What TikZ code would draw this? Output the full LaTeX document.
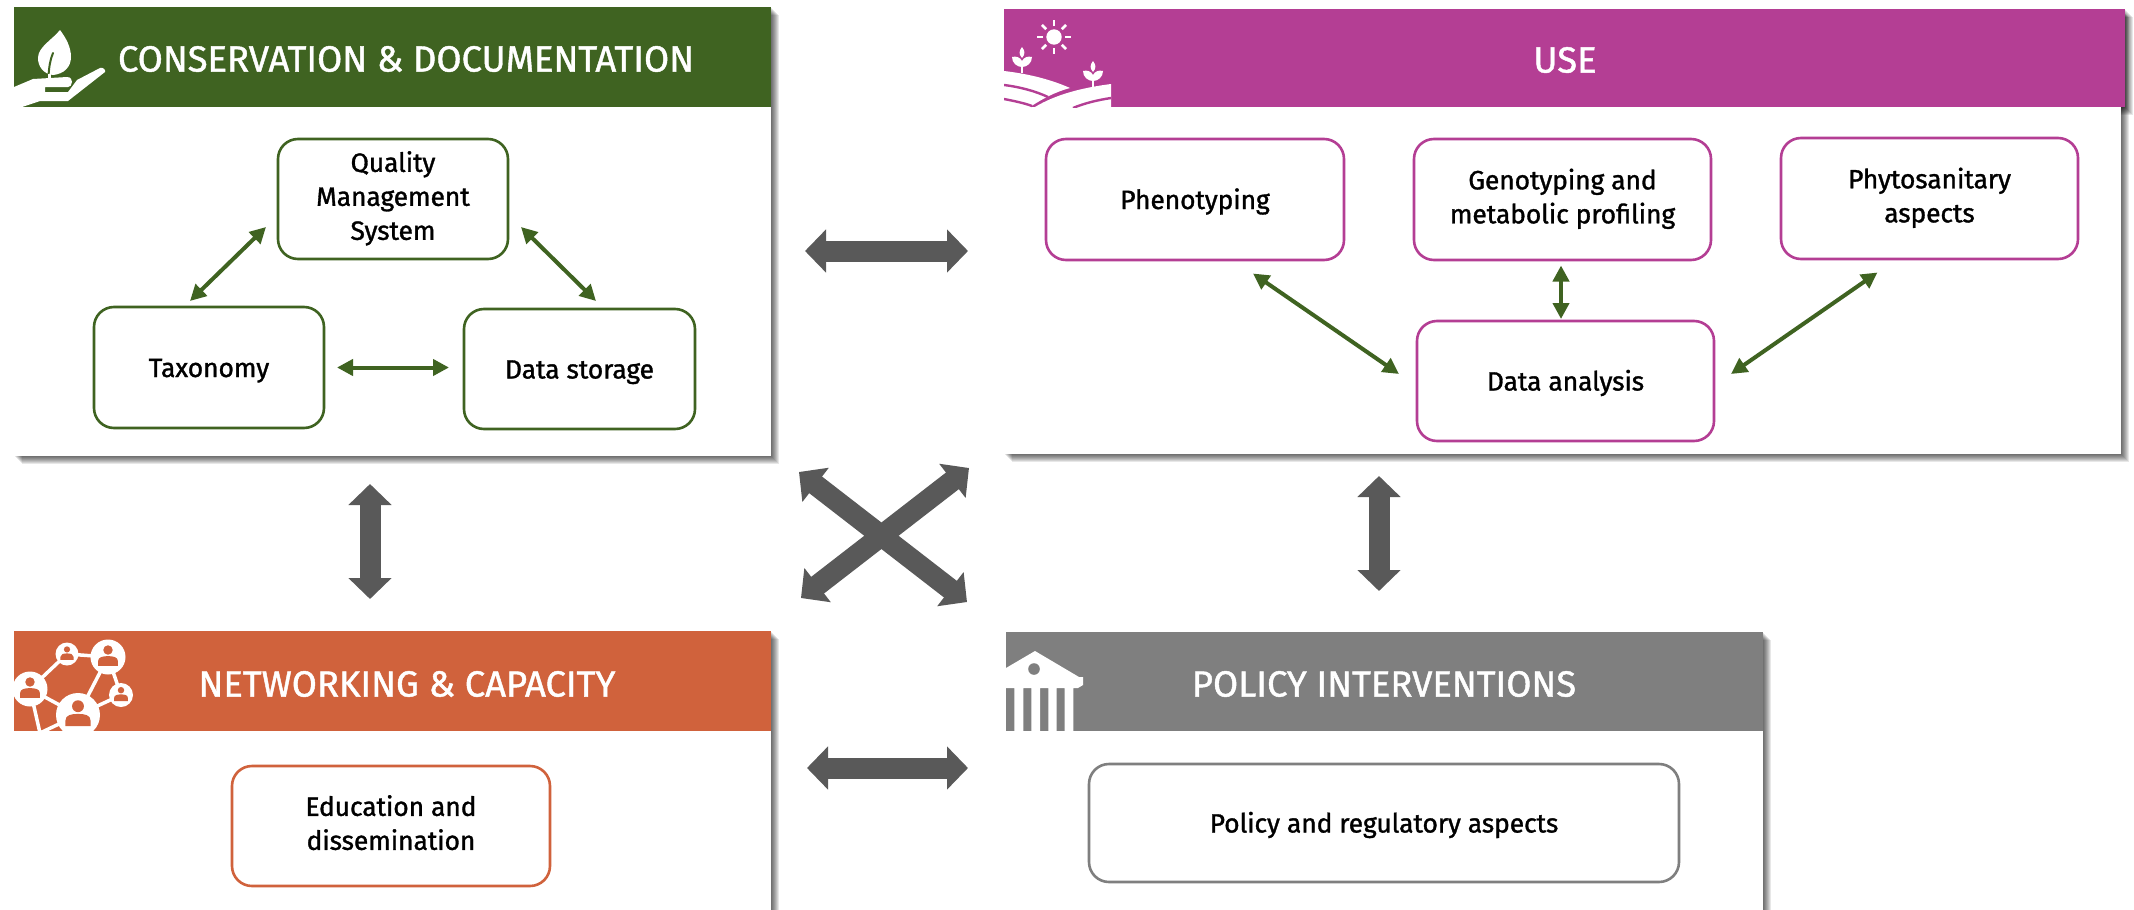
\documentclass[tikz,border=0pt]{standalone}
\usepackage{fontspec}
\setmainfont{Fira Sans}[Scale=1.0]
\usetikzlibrary{arrows.meta}
\definecolor{cgreen}{HTML}{3F6321}
\definecolor{cmag}{HTML}{B43E94}
\definecolor{corange}{HTML}{D0623C}
\definecolor{cgray}{HTML}{7F7F7F}
\definecolor{cblock}{HTML}{595959}
\newfontfamily\headfont{Fira Sans}[FakeBold=1.2]
\newfontfamily\boxfont{Fira Sans}[FakeBold=1.2,LetterSpace=-0.5]
\tikzset{
  panel/.style={rectangle,anchor=north west,fill=white,inner sep=0pt,outer sep=0pt},
  header/.style={rectangle,anchor=north west,inner sep=0pt,outer sep=0pt},
  headlabel/.style={inner sep=0pt,text=white,font=\headfont\fontsize{36.4}{40}\selectfont},
  roundbox/.style={rectangle,anchor=north west,rounded corners=20pt,line width=2.6pt,fill=white,align=center,inner sep=0pt,outer sep=0pt,text=black,font=\boxfont\fontsize{26.5}{34}\selectfont,
    execute at begin node={\rule[-7pt]{0pt}{33pt}},execute at end node={\rule[-7pt]{0pt}{0pt}}},
  thinarrow/.style={draw=cgreen,line width=4pt,{Triangle[length=16pt,width=16pt]}-{Triangle[length=16pt,width=16pt]}},
  blockarrow/.style={draw=cblock,line width=21pt,{Triangle[length=21pt,width=42pt]}-{Triangle[length=21pt,width=42pt]}},
}
\newcommand{\softshadow}[4]{%
  \foreach \sh in {8,7,6,5,4,3,2,1}{%
    \fill[black,opacity=0.095] (#1+\sh,#2+\sh) rectangle (#3+\sh,#4+\sh);
  }%
}
\newcommand{\netperson}[3]{%
  \begin{scope}[shift={(#1,#2)},scale=#3]
    \fill[white] (0,0) circle[radius=1];
    \fill[corange] (0,-.4) circle[radius=.27];
    \fill[corange] (-.57,.5) -- (-.57,.25) .. controls (-.57,0) and (-.3,-.05) .. (0,-.05) .. controls (.3,-.05) and (.57,0) .. (.57,.25) -- (.57,.5) -- cycle;
  \end{scope}%
}
\newcommand{\sprout}[2]{%
  \begin{scope}[shift={(#1,#2)}]
    \fill[white] (0,0) .. controls (3,4) and (3.5,7) .. (0,11) .. controls (-3.5,7) and (-3,4) .. (0,0) -- cycle;
    \fill[white] (-10,10) .. controls (-6,9) and (-2,10) .. (0,14) .. controls (2,10) and (6,9) .. (10,10) .. controls (10,16) and (5,20) .. (0,20) .. controls (-5,20) and (-10,16) .. (-10,10) -- cycle;
    \fill[white] (-1.2,18) rectangle (1.2,26);
  \end{scope}%
}
\begin{document}
\begin{tikzpicture}[x=1pt,y=-1pt]
\clip (0,0) rectangle (2134,910);
\fill[white] (0,0) rectangle (2134,910);
% shadows
\softshadow{14}{7}{771}{456}
\softshadow{1004}{9}{2121}{454}
\softshadow{2100}{9}{2125}{107}
\softshadow{14}{631}{771}{915}
\softshadow{1006}{632}{1763}{915}
% panels
\node[panel,minimum width=757pt,minimum height=449pt] (p1) at (14,7) {};
\node[panel,minimum width=1121pt,minimum height=445pt] (p2) at (1000,9) {};
\node[panel,minimum width=757pt,minimum height=284pt] (p3) at (14,631) {};
\node[panel,minimum width=757pt,minimum height=283pt] (p4) at (1006,632) {};
% headers
\node[header,fill=cgreen,minimum width=757pt,minimum height=100pt] (h1) at (14,7) {};
\node[header,fill=cmag,minimum width=1121pt,minimum height=98pt] (h2) at (1004,9) {};
\node[header,fill=corange,minimum width=757pt,minimum height=100pt] (h3) at (14,631) {};
\node[header,fill=cgray,minimum width=757pt,minimum height=99pt] (h4) at (1006,632) {};
\node[headlabel] (t1) at (406,59) {CONSERVATION \& DOCUMENTATION};
\node[headlabel] (t2) at (1565,60) {USE};
\node[headlabel] (t3) at (407,684) {NETWORKING \& CAPACITY};
\node[headlabel] (t4) at (1384,684) {POLICY INTERVENTIONS};
% icon: hand and leaf
\fill[white] (60,30) .. controls (66,38) and (71,47) .. (71,57) .. controls (71,67) and (64,74) .. (53,75) .. controls (43,74) and (38,66) .. (38,58) .. controls (38,47) and (52,40) .. (60,30) -- cycle;
\draw[cgreen,line width=2pt,line cap=round] (53,53) .. controls (50,60) and (49,68) .. (48.5,76);
\fill[white] (48,74) rectangle (51,79);
\fill[white] (14,87) -- (33,79) -- (67,77) .. controls (71,77) and (72,80) .. (72,82) .. controls (72,85) and (70,87) .. (68,87) -- (45,87) -- (45,92) -- (68,92) -- (77,80) -- (100,68) .. controls (103,67) and (106,70) .. (105,72) -- (68,101) -- (40,101) -- (22,107) -- (14,107) -- cycle;
% icon: sun, plants, hills
\fill[white] (1054,37) circle[radius=7.7];
\foreach \a in {0,45,...,315}{\draw[white,line width=2.6pt] (1054,37) ++(\a:11) -- ++(\a:6);}
\sprout{1022}{47}
\sprout{1093}{61}
\begin{scope}
\clip (1004,9) rectangle (1111,107);
\fill[white] (1004,71) .. controls (1030,74) and (1052,80) .. (1070,88) .. controls (1055,92) and (1042,99) .. (1030,107) -- (1004,107) -- cycle;
\fill[white] (1035,107) .. controls (1055,95) and (1080,88) .. (1111,84) -- (1111,107) -- cycle;
\draw[cmag,line width=2.4pt] (1004,85) .. controls (1020,87) and (1035,91) .. (1048,97);
\draw[cmag,line width=2.4pt] (1004,99) .. controls (1014,101) and (1024,103) .. (1032,106);
\draw[cmag,line width=2.4pt] (1073,108) .. controls (1085,103) and (1098,100) .. (1111,98);
\end{scope}
% icon: network
\begin{scope}
\clip (14,631) rectangle (771,731);
\draw[white,line width=3.5pt] (30,689) -- (67,654) -- (108,657) -- (121,695) -- (78,715) -- (108,657);
\draw[white,line width=3.5pt] (30,689) -- (78,715) -- (40,733) -- (30,689);
\netperson{30}{689}{17.5}
\netperson{67}{654}{11.5}
\netperson{108}{657}{17.5}
\netperson{121}{695}{12}
\netperson{78}{715}{22}
\end{scope}
% icon: building
\fill[white] (1035,651) -- (1006,668) -- (1006,688) -- (1014.3,688) -- (1014.3,731) -- (1023.3,731) -- (1023.3,688) -- (1031.3,688) -- (1031.3,731) -- (1040,731) -- (1040,688) -- (1048.3,688) -- (1048.3,731) -- (1056.7,731) -- (1056.7,688) -- (1064.7,688) -- (1064.7,731) -- (1073.3,731) -- (1073.3,688) -- (1078,688) -- (1083,685) -- (1083,677) -- (1079,677) -- cycle;
\fill[cgray] (1034,669) circle[radius=5.8];
% inner boxes
\node[roundbox,draw=cgreen,minimum width=230pt,minimum height=120pt] (qms) at (278,139) {Quality\\Management\\System};
\node[roundbox,draw=cgreen,minimum width=230pt,minimum height=121pt] (tax) at (94,307) {Taxonomy};
\node[roundbox,draw=cgreen,minimum width=231pt,minimum height=120pt] (ds) at (464,309) {Data storage};
\node[roundbox,draw=cmag,minimum width=298pt,minimum height=121pt] (phe) at (1046,139) {Phenotyping};
\node[roundbox,draw=cmag,minimum width=297pt,minimum height=121pt] (gen) at (1414,139) {Genotyping and\\metabolic profiling};
\node[roundbox,draw=cmag,minimum width=297pt,minimum height=121pt] (phy) at (1781,138) {Phytosanitary\\aspects};
\node[roundbox,draw=cmag,minimum width=297pt,minimum height=120pt] (da) at (1417,321) {Data analysis};
\node[roundbox,draw=corange,minimum width=318pt,minimum height=120pt] (edu) at (232,766) {Education and\\dissemination};
\node[roundbox,draw=cgray,minimum width=590pt,minimum height=118pt] (pol) at (1089,764) {Policy and regulatory aspects};
% green connectors
\draw[thinarrow] ([shift={(-12,-32)}]qms.south west) -- ([shift={(-19,-6)}]tax.north);
\draw[thinarrow] ([shift={(13,-32)}]qms.south east) -- ([shift={(16.5,-8)}]ds.north);
\draw[thinarrow] ([shift={(13,0)}]tax.east) -- ([shift={(-15,-1.5)}]ds.west);
\draw[thinarrow] ([shift={(58,13.5)}]phe.south) -- ([shift={(-18,-7)}]da.west);
\draw[thinarrow] ([shift={(-1.5,5.5)}]gen.south) -- ([shift={(-4.5,-2)}]da.north);
\draw[thinarrow] ([shift={(17,-7)}]da.east) -- ([shift={(-52,13.5)}]phy.south);
% block connectors
\draw[blockarrow] ([shift={(34,19.5)}]p1.east) -- ([shift={(-32,19.5)}]p2.west);
\draw[blockarrow] ([shift={(36,-5)}]p3.east) -- ([shift={(-38,-5.5)}]p4.west);
\draw[blockarrow] ([shift={(-22.5,28)}]p1.south) -- ([shift={(-22.5,-32)}]p3.north);
\draw[blockarrow] ([shift={(-181.5,22)}]p2.south) -- ([shift={(-5.5,-41)}]p4.north);
\draw[blockarrow] ([shift={(28,16)}]p1.south east) -- ([shift={(-39,-30)}]p4.north west);
\draw[blockarrow] ([shift={(-31,14)}]p2.south west) -- ([shift={(30,-33)}]p3.north east);
\end{tikzpicture}
\end{document}
